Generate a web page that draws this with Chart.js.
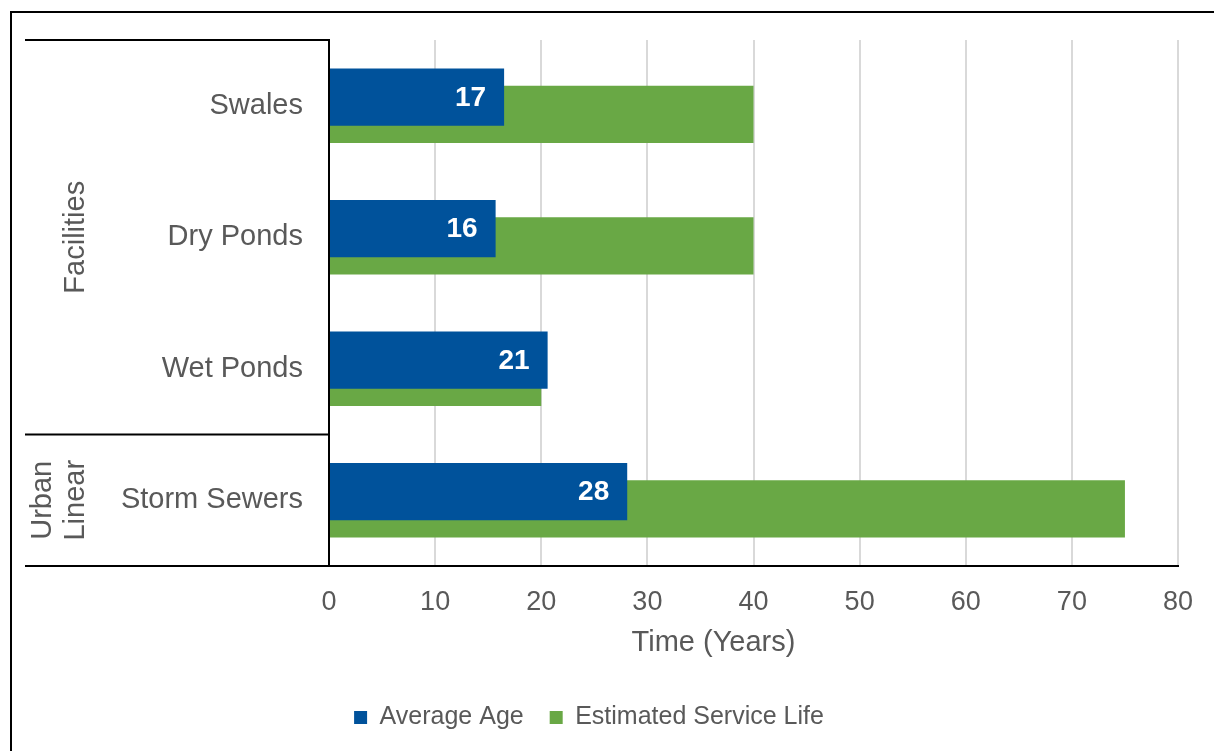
<!DOCTYPE html>
<html>
<head>
<meta charset="utf-8">
<script src="https://cdn.jsdelivr.net/npm/chart.js@4.4.1/dist/chart.umd.min.js"></script>
<style>
  body { margin: 0; background: #fff; overflow: hidden; }
  #wrap { width: 1214px; height: 751px; position: relative; }
</style>
</head>
<body>
<div id="wrap"><canvas id="myChart" width="1214" height="751"></canvas></div>
<script>
'use strict';

const categories = ['Swales', 'Dry Ponds', 'Wet Ponds', 'Storm Sewers'];
const averageAge = [16.5, 15.7, 20.6, 28.1];
const serviceLife = [40, 40, 20, 75];
const seriesNames = ['Average Age', 'Estimated Service Life'];
const xTitle = 'Time (Years)';
const xMin = 0;
const xMax = 80;
const xStep = 10;
const groupNames = [['Facilities'], ['Urban', 'Linear']];
const groupEnds = [2, 3]; // last category index of each group

const blue = '#00529B';
const green = '#69A845';
const textGray = '#595959';
const fontName = '"Liberation Sans", Arial, sans-serif';

// white value labels inside the blue bars
const valueLabels = {
  id: 'valueLabels',
  afterDatasetsDraw(chart) {
    const ctx = chart.ctx;
    const meta = chart.getDatasetMeta(0);
    ctx.save();
    ctx.fillStyle = '#fff';
    ctx.font = 'bold 28px ' + fontName;
    ctx.textAlign = 'right';
    ctx.textBaseline = 'middle';
    meta.data.forEach((bar, i) => {
      ctx.fillText(String(Math.round(averageAge[i])), bar.x - 18, bar.y + 1);
    });
    ctx.restore();
  }
};

// frame, group dividers, rotated group names and the x title
const groupAxis = {
  id: 'groupAxis',
  afterDraw(chart) {
    const ctx = chart.ctx;
    const area = chart.chartArea;
    const y = chart.scales.y;
    const step = y.getPixelForValue(1) - y.getPixelForValue(0);
    ctx.save();
    ctx.strokeStyle = '#000';
    ctx.lineWidth = 2;
    ctx.strokeRect(11, 12, 1400, 1000);

    function hline(yy) {
      ctx.beginPath();
      ctx.moveTo(25, yy);
      ctx.lineTo(area.left, yy);
      ctx.stroke();
    }
    hline(area.top);
    hline(area.bottom);

    let start = 0;
    ctx.fillStyle = textGray;
    ctx.font = '29px ' + fontName;
    ctx.textAlign = 'center';
    ctx.textBaseline = 'middle';
    for (let g = 0; g < groupNames.length; g++) {
      const end = groupEnds[g];
      const top = y.getPixelForValue(start) - step / 2;
      const bottom = y.getPixelForValue(end) + step / 2;
      if (g < groupNames.length - 1) hline(bottom);
      const lines = groupNames[g];
      const cy = (top + bottom) / 2;
      for (let k = 0; k < lines.length; k++) {
        const cx = 76 - (lines.length - 1 - k) * 33;
        ctx.save();
        ctx.translate(cx, cy);
        ctx.rotate(-Math.PI / 2);
        ctx.fillText(lines[k], 0, 0);
        ctx.restore();
      }
      start = end + 1;
    }

    // axis title, sits left of the plot centre as in the original
    ctx.fillText(xTitle, (area.left + area.right) / 2 - 40, area.bottom + 77);
    ctx.restore();
  }
};

const ctx = document.getElementById('myChart').getContext('2d');
const myChart = new Chart(ctx, {
  type: 'bar',
  data: {
    labels: categories,
    datasets: [{
      label: seriesNames[0],
      data: averageAge,
      backgroundColor: blue,
      categoryPercentage: 0.26,
      barPercentage: 3.35
    }, {
      label: seriesNames[1],
      data: serviceLife,
      backgroundColor: green,
      categoryPercentage: 0.26,
      barPercentage: 3.35
    }]
  },
  options: {
    indexAxis: 'y',
    responsive: false,
    animation: false,
    events: [],
    layout: { padding: { left: 0, right: 36, top: 40, bottom: 11 } },
    scales: {
      x: {
        min: xMin,
        max: xMax,
        afterFit(scale) { scale.height = 113; },
        ticks: {
          stepSize: xStep,
          color: textGray,
          font: { family: fontName, size: 27 },
          padding: 20
        },
        grid: { color: '#D9D9D9', lineWidth: 2, drawTicks: false },
        border: { display: true, color: '#000', width: 2 }
      },
      y: {
        afterFit(scale) {
          scale.width = 329;
          scale.paddingTop = 0;
          scale.paddingBottom = 0;
        },
        ticks: {
          color: textGray,
          font: { family: fontName, size: 29 },
          padding: 26
        },
        grid: { display: false, drawTicks: false },
        border: { display: true, color: '#000', width: 2 }
      }
    },
    plugins: {
      legend: {
        position: 'bottom',
        labels: {
          color: textGray,
          font: { family: fontName, size: 25 },
          boxWidth: 13,
          boxHeight: 13,
          padding: 26
        }
      },
      tooltip: { enabled: false }
    }
  },
  plugins: [valueLabels, groupAxis]
});
</script>
</body>
</html>
